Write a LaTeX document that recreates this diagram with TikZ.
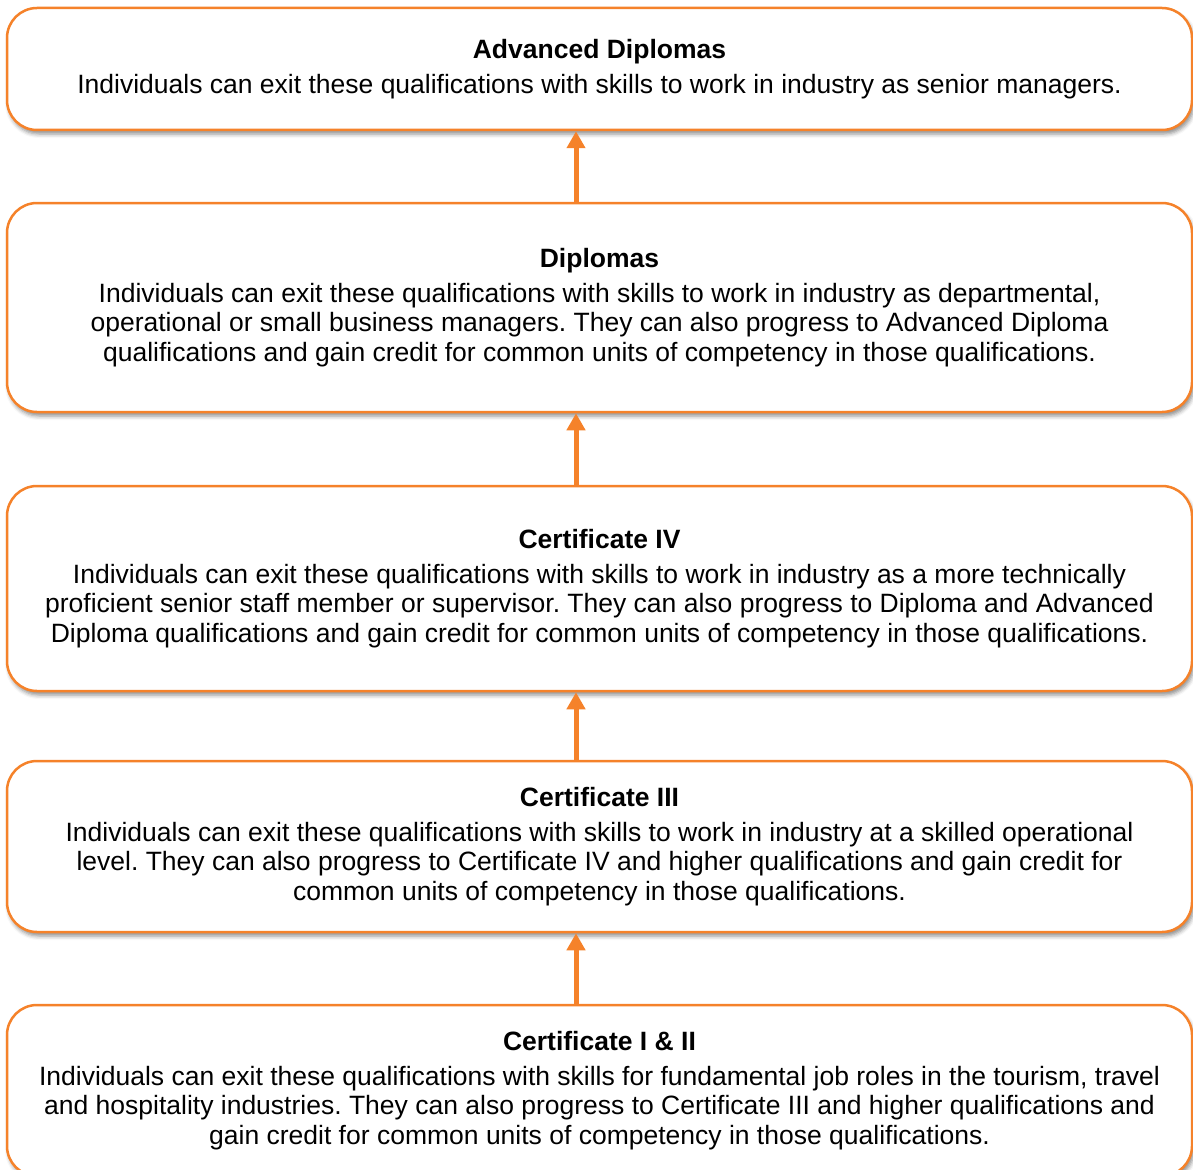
\documentclass[tikz,border=0pt]{standalone}
\usepackage{fontspec}
\setmainfont{Liberation Sans}
\frenchspacing
\usetikzlibrary{positioning,arrows.meta,shadows.blur}
\definecolor{boxorange}{HTML}{F5822A}

\begin{document}
\begin{tikzpicture}
    [x=1pt,y=-1pt,
     every node/.style={font=\fontsize{26.5}{29.5}\selectfont, align=center, inner sep=0pt},
     box/.style={draw=boxorange, line width=2.5pt, fill=white, rounded corners=30pt,
       minimum width=1185pt,
       blur shadow={shadow xshift=2pt, shadow yshift=-4pt, shadow blur radius=4pt, shadow opacity=45}},
     up/.style={draw=boxorange, line width=5pt, -{Triangle[width=18pt,length=17pt]}}]
  \useasboundingbox (0,0) rectangle (1193,1169);

  \node[box, minimum height=122pt] (n1) at (599.5,69) {\textbf{Advanced Diplomas}\\[5.5pt]
    Individuals can exit these qualifications with skills to work in industry as senior managers.};
  \node[box, minimum height=209pt] (n2) at (599.5,307.5) {\textbf{Diplomas}\\[5.5pt]
    Individuals can exit these qualifications with skills to work in industry as departmental,\\
    operational or small business managers. They can also progress to Advanced Diploma\\
    qualifications and gain credit for common units of competency in those qualifications.};
  \node[box, minimum height=205pt] (n3) at (599.5,588.5) {\textbf{Certificate IV}\\[5.5pt]
    Individuals can exit these qualifications with skills to work in industry as a more technically\\
    proficient senior staff member or supervisor. They can also progress to Diploma and Advanced\\
    Diploma qualifications and gain credit for common units of competency in those qualifications.};
  \node[box, minimum height=171pt] (n4) at (599.5,846.5) {\textbf{Certificate III}\\[5.5pt]
    Individuals can exit these qualifications with skills to work in industry at a skilled operational\\
    level. They can also progress to Certificate IV and higher qualifications and gain credit for\\
    common units of competency in those qualifications.};
  \node[box, minimum height=171pt] (n5) at (599.5,1090.5) {\textbf{Certificate I \& II}\\[5.5pt]
    Individuals can exit these qualifications with skills for fundamental job roles in the tourism, travel\\
    and hospitality industries. They can also progress to Certificate III and higher qualifications and\\
    gain credit for common units of competency in those qualifications.};

  \foreach \from/\to in {n2/n1, n3/n2, n4/n3, n5/n4}
    \draw[up] ([xshift=-23.5pt]\from.north) -- ([xshift=-23.5pt]\to.south);
\end{tikzpicture}
\end{document}
